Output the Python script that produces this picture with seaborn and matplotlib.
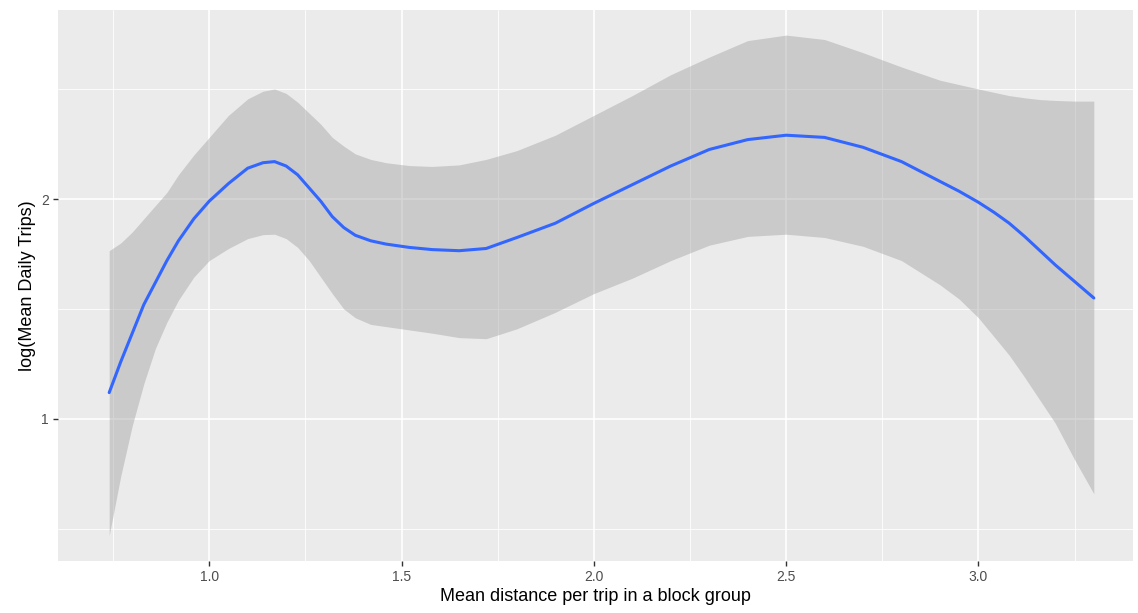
import matplotlib
matplotlib.use("Agg")
import matplotlib.pyplot as plt
import matplotlib.ticker as mtick
import pandas as pd
import seaborn as sns

# values (loess fit with its confidence band)
distance = [0.74, 0.77, 0.80, 0.83, 0.86, 0.89, 0.92, 0.96, 1.00, 1.05, 1.10,
            1.14, 1.17, 1.20, 1.23, 1.26, 1.29, 1.32, 1.35, 1.38, 1.42, 1.46,
            1.52, 1.58, 1.65, 1.72, 1.80, 1.90, 2.00, 2.10, 2.20, 2.30, 2.40,
            2.50, 2.60, 2.70, 2.80, 2.90, 2.95, 3.00, 3.04, 3.08, 3.12, 3.16,
            3.20, 3.25, 3.30]
fit = [1.12, 1.26, 1.39, 1.52, 1.62, 1.72, 1.81, 1.91, 1.99, 2.07, 2.14,
       2.165, 2.17, 2.15, 2.11, 2.05, 1.99, 1.92, 1.87, 1.835, 1.81, 1.795,
       1.78, 1.77, 1.765, 1.775, 1.825, 1.89, 1.98, 2.065, 2.15, 2.225, 2.27,
       2.29, 2.28, 2.235, 2.17, 2.08, 2.035, 1.985, 1.94, 1.89, 1.83, 1.765,
       1.70, 1.625, 1.55]
upper = [1.765, 1.80, 1.85, 1.91, 1.97, 2.03, 2.11, 2.20, 2.28, 2.38, 2.455,
         2.49, 2.50, 2.48, 2.44, 2.39, 2.34, 2.28, 2.24, 2.205, 2.18, 2.165,
         2.152, 2.148, 2.155, 2.18, 2.22, 2.29, 2.38, 2.47, 2.565, 2.645, 2.72,
         2.745, 2.725, 2.665, 2.60, 2.54, 2.52, 2.50, 2.485, 2.47, 2.46, 2.452,
         2.448, 2.445, 2.445]
lower = [0.47, 0.74, 0.97, 1.16, 1.32, 1.44, 1.54, 1.645, 1.72, 1.775, 1.82,
         1.838, 1.84, 1.82, 1.78, 1.72, 1.645, 1.57, 1.50, 1.46, 1.43, 1.42,
         1.405, 1.39, 1.37, 1.365, 1.41, 1.485, 1.57, 1.64, 1.72, 1.79, 1.83,
         1.84, 1.825, 1.785, 1.72, 1.61, 1.545, 1.46, 1.375, 1.29, 1.19, 1.085,
         0.98, 0.815, 0.66]

df = pd.DataFrame({"distance": distance, "fit": fit, "upper": upper, "lower": lower})

sns.set_theme(style="darkgrid", rc={
    "axes.facecolor": "#EBEBEB",
    "grid.color": "white",
    "axes.edgecolor": "#EBEBEB",
    "xtick.color": "#333333",
    "ytick.color": "#333333",
})
plt.rcParams["font.family"] = ["Liberation Sans", "DejaVu Sans"]

fig = plt.figure(figsize=(11.38, 6.13), dpi=100)
ax = fig.add_axes([0.051, 0.085, 0.945, 0.899])

ax.fill_between(df["distance"], df["lower"], df["upper"], color="#999999", alpha=0.4,
                linewidth=0, zorder=2)
sns.lineplot(data=df, x="distance", y="fit", color="#3366FF", linewidth=2.2, ax=ax, zorder=3)

ax.set_xlim(0.607, 3.403)
ax.set_ylim(0.355, 2.86)
ax.xaxis.set_major_locator(mtick.FixedLocator([1.0, 1.5, 2.0, 2.5, 3.0]))
ax.xaxis.set_minor_locator(mtick.FixedLocator([0.75, 1.25, 1.75, 2.25, 2.75, 3.25]))
ax.yaxis.set_major_locator(mtick.FixedLocator([1, 2]))
ax.yaxis.set_minor_locator(mtick.FixedLocator([0.5, 1.5, 2.5]))
ax.xaxis.set_major_formatter(mtick.FormatStrFormatter("%.1f"))
ax.yaxis.set_major_formatter(mtick.FormatStrFormatter("%d"))

ax.grid(which="major", color="white", linewidth=1.2)
ax.grid(which="minor", color="white", linewidth=0.6)
ax.set_axisbelow(True)
for s in ax.spines.values():
    s.set_visible(False)

ax.tick_params(axis="both", which="major", length=3.5, width=1, color="#333333",
               labelsize=10, labelcolor="#4D4D4D", direction="out", pad=3)
ax.tick_params(axis="both", which="minor", length=0)
ax.tick_params(bottom=True, left=True)

ax.set_xlabel("Mean distance per trip in a block group", fontsize=13, color="black", labelpad=3)
ax.set_ylabel("log(Mean Daily Trips)", fontsize=13, color="black", labelpad=4)

fig.savefig("out.png", dpi=100)
